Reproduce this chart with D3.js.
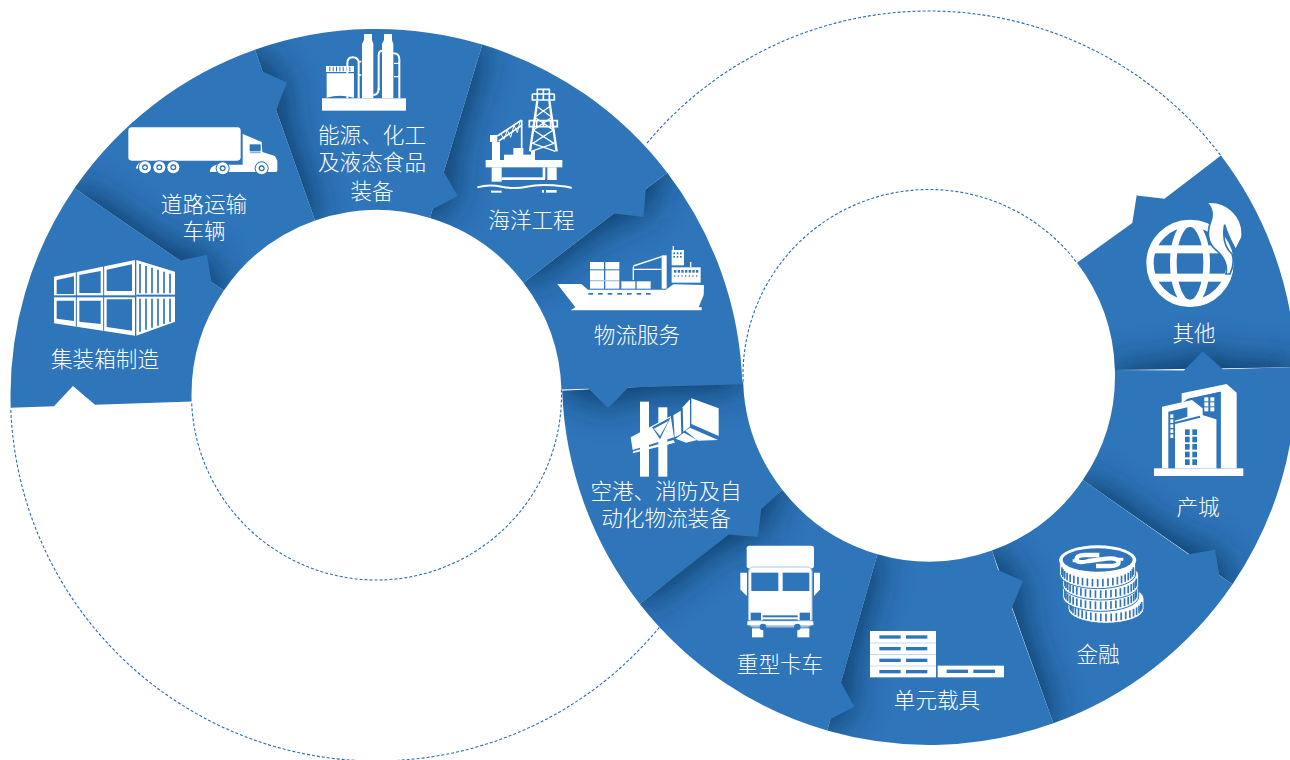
<!DOCTYPE html>
<html>
<head>
<meta charset="utf-8">
<script src="https://cdnjs.cloudflare.com/ajax/libs/d3/7.8.5/d3.min.js"></script>
<style>
html, body { margin: 0; padding: 0; background: #fff; overflow: hidden; }
svg { display: block; }
text { font-family: "Noto Sans CJK SC", "Noto Sans", sans-serif; font-weight: 300; fill: #fff; text-anchor: middle; }
</style>
</head>
<body>
<div id="chart"></div>
<script>
// categories, clockwise round the left ring then anticlockwise round the right ring
const leftCategories = [["集装箱制造"], ["道路运输", "车辆"], ["能源、化工", "及液态食品", "装备"], ["海洋工程"], ["物流服务"]];
const rightCategories = [["空港、消防及自", "动化物流装备"], ["重型卡车"], ["单元载具"], ["金融"], ["产城"], ["其他"]];

// edge angles in degrees, 0 at the top
const leftEdges = [268, 304.4, 340.6, 376.8, 412.6, 448.3];
const rightEdges = [268, 232, 196.1, 160.2, 124.2, 88.3, 52.7];

// arrow on the closing edge of each sector: [radius, tip radius, tip offset in degrees, radius]
const leftArrows = [[238, 220, 5.2, 200], [343, 325, 3.4, 302], [233, 215, 5.4, 194], [339, 321, 3.7, 299], [252, 232, 4.9, 212]];
const rightArrows = [[254, 233.5, -4.9, 213], [355, 337, -3.3, 317], [244.5, 223.7, -5, 204], [351, 333.7, -3.2, 313.7], [294, 275, -3.9, 255], [296, 276.4, -4, 255.6]];
const startNotch = [322.7, 303.7, 3.7, 281.6];

// dotted rest of each ring: [from, to] in degrees
const leftOuterDots = [129.4, 268];
const leftInnerDots = [88.3, 268];
const rightOuterDots = [309.8, 412.9];
const rightInnerDots = [268, 412.6];

const labelSpots = [[105, 359], [204, 204], [372, 135.5], [531.5, 220.5], [637, 335.5], [666, 491], [780, 664], [937, 700], [1098, 654], [1198, 507], [1194, 333]];
const lineGaps = [0, 27, 28.5];

const BLUE = "#2e75ba", WHITE = "#fff";
const width = 1290, height = 760;

const leftRing = { cx: 376.5, cy: 395, icy: 395, outer: 366, inner: 185, ccw: false };
const rightRing = { cx: 929, cy: 378, icy: 375.5, outer: 367, inner: 186, ccw: true };

const angle = d3.scaleLinear().domain([0, 360]).range([0, 2 * Math.PI]);

const svg = d3.select("#chart").append("svg").attr("width", width).attr("height", height);
const defs = svg.append("defs");
defs.append("filter").attr("id", "soft")
    .attr("filterUnits", "userSpaceOnUse")
    .attr("x", -100).attr("y", -100).attr("width", width + 200).attr("height", height + 200)
    .append("feGaussianBlur").attr("stdDeviation", 20);

function at(ring, r, deg) {
    const p = d3.pointRadial(angle(deg), r);
    return [ring.cx + p[0], ring.cy + p[1]];
}

function sectorPath(ring, a0, a1, arrow, notch) {
    const path = d3.path();
    const s = d3.pointRadial(angle(a0), ring.inner);
    path.moveTo(ring.cx + s[0], ring.icy + s[1]);
    if (notch) {
        [[notch[3], 0], [notch[1], notch[2]], [notch[0], 0]].forEach(n => {
            const q = at(ring, n[0], a0 + n[1]);
            path.lineTo(q[0], q[1]);
        });
    }
    path.arc(ring.cx, ring.cy, ring.outer, angle(a0) - Math.PI / 2, angle(a1) - Math.PI / 2, ring.ccw);
    [[arrow[0], 0], [arrow[1], arrow[2]], [arrow[3], 0]].forEach(n => {
        const q = at(ring, n[0], a1 + n[1]);
        path.lineTo(q[0], q[1]);
    });
    path.arc(ring.cx, ring.icy, ring.inner, angle(a1) - Math.PI / 2, angle(a0) - Math.PI / 2, !ring.ccw);
    path.closePath();
    return path.toString();
}

function dotted(cx, cy, r, span) {
    const path = d3.path();
    path.arc(cx, cy, r, angle(span[0]) - Math.PI / 2, angle(span[1]) - Math.PI / 2);
    svg.append("path").attr("d", path.toString())
        .attr("fill", "none").attr("stroke", "#2a6cb0").attr("stroke-width", 1.1).attr("stroke-dasharray", "3 2");
}

dotted(leftRing.cx, leftRing.cy, leftRing.outer, leftOuterDots);
dotted(leftRing.cx, leftRing.icy, leftRing.inner, leftInnerDots);
dotted(rightRing.cx, rightRing.cy, rightRing.outer, rightOuterDots);
dotted(rightRing.cx, rightRing.icy, rightRing.inner, rightInnerDots);

const sectors = [];
leftCategories.forEach((lines, i) => sectors.push({
    lines, d: sectorPath(leftRing, leftEdges[i], leftEdges[i + 1], leftArrows[i], i === 0 ? startNotch : null)
}));
rightCategories.forEach((lines, i) => sectors.push({
    lines, d: sectorPath(rightRing, rightEdges[i], rightEdges[i + 1], rightArrows[i], null)
}));

// last sector first, every sector lies on top of the next one and throws a shadow on it
for (let i = sectors.length - 1; i >= 0; i--) {
    svg.append("path").attr("d", sectors[i].d).attr("fill", BLUE);
    if (i > 0) {
        defs.append("clipPath").attr("id", "clip" + i).append("path").attr("d", sectors[i].d);
        svg.append("g").attr("clip-path", "url(#clip" + i + ")")
            .append("path").attr("d", sectors[i - 1].d)
            .attr("fill", "#0e2a50").attr("filter", "url(#soft)");
    }
}

sectors.forEach((s, i) => {
    const t = svg.append("text").attr("font-size", 21.6);
    let y = labelSpots[i][1] + 7.5;
    s.lines.forEach((line, j) => {
        y += lineGaps[j];
        t.append("tspan").attr("x", labelSpots[i][0]).attr("y", y).text(line);
    });
});

// ---- icons, drawn in 3x crop coordinates so each one gets its own group ----
function iconGroup(x, y) {
    return svg.append("g").attr("transform", "translate(" + x + "," + y + ") scale(" + (1 / 3) + ")");
}
function pg(g, pts, fill) {
    return g.append("polygon").attr("points", pts).attr("fill", fill || WHITE);
}
function box(g, x0, y0, x1, y1, fill, rx) {
    return g.append("rect").attr("x", x0).attr("y", y0).attr("width", x1 - x0).attr("height", y1 - y0)
        .attr("fill", fill || WHITE).attr("rx", rx || 0);
}
function ln(g, d, w, color) {
    return g.append("path").attr("d", d).attr("fill", "none").attr("stroke", color || WHITE).attr("stroke-width", w);
}
function dot(g, x, y, r, fill) {
    return g.append("circle").attr("cx", x).attr("cy", y).attr("r", r).attr("fill", fill || WHITE);
}

// containers
(function () {
    const g = iconGroup(0, 20);
    pg(g, "162,770 405,720 405,947 162,910");
    pg(g, "409,720 525,755 525,905 409,947");
    ln(g, "M229,752V920M311,735V932", 3, BLUE);
    box(g, 162, 826, 405, 832, BLUE);
    pg(g, "170,780 222,769 222,822 170,822", BLUE);
    pg(g, "238,765 302,753 302,819 238,819", BLUE);
    pg(g, "320,749 396,733 396,813 320,813", BLUE);
    pg(g, "170,842 222,842 222,903 170,896", BLUE);
    pg(g, "238,842 302,842 302,912 238,905", BLUE);
    pg(g, "320,838 396,838 396,932 320,921", BLUE);
    [420, 438, 456, 474, 492, 510].forEach((x, i) => {
        const s = i * 5.8;
        ln(g, "M" + x + "," + (732 + s) + "V" + 820 + "M" + x + ",836V" + (935 - s), 5, BLUE);
    });
    box(g, 409, 824, 525, 830, BLUE);
})();

// road truck
(function () {
    const g = iconGroup(0, 20);
    box(g, 385, 322, 722, 422, WHITE, 10);
    g.append("path").attr("fill", WHITE)
        .attr("d", "M728,342L785,366L787,396L825,408L832,422V452Q832,456 825,456H630Q628,440 650,434H728Z");
    box(g, 749, 373, 782, 394, BLUE);
    ln(g, "M750,398L782,398", 2, BLUE);
    ln(g, "M410,446Q414,430 428,427", 5);
    [[435, 442], [478, 442], [520, 442], [668, 445], [785, 445]].forEach(w => {
        dot(g, w[0], w[1], 21, BLUE);
        dot(g, w[0], w[1], 18);
        dot(g, w[0], w[1], 9, BLUE);
        dot(g, w[0], w[1], 5);
    });
})();

// refinery
(function () {
    const g = iconGroup(0, 20);
    box(g, 966, 235, 1218, 272);
    g.append("path").attr("fill", WHITE).attr("d", "M980,160H1062V233H1060Q1020,222 980,233Z");
    box(g, 978, 138, 1062, 156);
    [988, 998, 1008, 1018, 1028, 1038, 1048].forEach(x => box(g, x, 140, x + 3, 154, BLUE));
    g.append("path").attr("fill", WHITE).attr("d", "M1086,235V72L1092,60V42H1116V60L1120,72V235Z");
    g.append("path").attr("fill", WHITE).attr("d", "M1146,235V72L1152,60V42H1176V60L1180,72V235Z");
    ln(g, "M1042,235V130Q1042,112 1058,112Q1076,112 1076,130V235", 6);
    ln(g, "M1084,125H1076M1084,165H1076", 5);
    ln(g, "M1180,100Q1198,100 1198,118V235", 6);
    ln(g, "M1136,210V105Q1136,92 1148,92", 6);
    ln(g, "M1120,225Q1136,225 1136,205", 6);
    ln(g, "M1182,130H1198M1182,170H1198", 4);
})();

// oil platform
(function () {
    const g = iconGroup(420, 80);
    ln(g, "M350,28H390M352,28V62M370,28V62M388,28V62M337,42H403M337,42V60H403V42", 5);
    ln(g, "M352,62L330,214M388,62L410,214", 7);
    ln(g, "M352,80L396,112L340,150L402,190L334,214M388,80L344,112L400,150L338,190L406,214", 4);
    ln(g, "M328,122H412V140H328ZM350,122V140M370,122V140M392,122V140", 5);
    box(g, 197, 240, 427, 262);
    box(g, 252, 224, 335, 242);
    box(g, 280, 204, 310, 226);
    box(g, 333, 212, 345, 242);
    box(g, 210, 165, 232, 186);
    box(g, 216, 186, 240, 242);
    ln(g, "M232,168L305,120M236,183L305,136M305,120V205", 5);
    ln(g, "M243,162L252,178L262,150L272,172L282,136L292,158L300,125", 3);
    box(g, 215, 262, 245, 305);
    box(g, 245, 292, 375, 300);
    box(g, 368, 262, 376, 296);
    box(g, 382, 262, 410, 300);
    ln(g, "M172,322Q205,312 245,320T320,320T400,316T455,324", 6);
    box(g, 213, 332, 245, 338);
    box(g, 366, 330, 372, 338);
    box(g, 378, 330, 410, 338);
})();

// container ship
(function () {
    const g = iconGroup(420, 80);
    pg(g, "412,612 484,612 504,629 738,629 760,613 852,615 851,645 836,682 845,682 845,691 452,691 466,682");
    [505, 534, 563, 592, 621, 650, 678].forEach(x => box(g, x, 639, x + 14, 644, BLUE));
    box(g, 510, 546, 552, 568); box(g, 556, 546, 598, 568);
    box(g, 510, 571, 552, 600); box(g, 556, 571, 598, 600);
    box(g, 510, 602, 552, 626); box(g, 556, 602, 598, 626);
    box(g, 510, 600, 598, 604, "#a9c8e6");
    box(g, 604, 604, 646, 626); box(g, 650, 604, 692, 626);
    box(g, 725, 526, 740, 626);
    ln(g, "M640,558L725,530M640,568H725M640,560V600", 4);
    box(g, 755, 562, 842, 608);
    box(g, 755, 510, 792, 556);
    box(g, 758, 498, 762, 512); box(g, 810, 546, 814, 562);
    [762, 773, 784, 795, 806, 817, 828].forEach(x => box(g, x, 570, x + 7, 578, BLUE));
    [762, 773, 784, 795, 806, 817, 828].forEach(x => box(g, x, 586, x + 4, 590, BLUE));
    [760, 770, 780].forEach(x => { box(g, x, 517, x + 5, 523, BLUE); box(g, x, 528, x + 5, 533, BLUE); });
})();

// airport bridge
(function () {
    const g = iconGroup(560, 380);
    box(g, 240, 65, 267, 290);
    box(g, 295, 82, 322, 290);
    pg(g, "212,172 332,108 342,172 218,210");
    pg(g, "218,220 345,188 340,180 220,214");
    pg(g, "276,142 332,112 300,178", BLUE);
    pg(g, "282,146 326,122 300,168");
    pg(g, "340,106 362,92 364,162 344,172");
    pg(g, "368,82 390,58 390,140 370,155");
    pg(g, "394,55 476,85 476,168 394,132");
    pg(g, "347,176 372,158 412,180 378,188");
    pg(g, "376,152 390,143 474,180 414,182");
})();

// truck, front view
(function () {
    const g = iconGroup(560, 380);
    box(g, 560, 497, 762, 565, WHITE, 8);
    g.append("rect").attr("x", 566).attr("y", 561).attr("width", 190).attr("height", 180).attr("rx", 14)
        .attr("fill", WHITE).attr("stroke", "#a9c8e6").attr("stroke-width", 3);
    box(g, 574, 578, 655, 633, BLUE);
    box(g, 668, 578, 748, 633, BLUE);
    pg(g, "541,578 561,578 561,648 548,636 541,628");
    pg(g, "762,578 780,578 780,628 773,636 762,648");
    box(g, 572, 698, 603, 720, BLUE);
    box(g, 719, 698, 750, 720, BLUE);
    box(g, 608, 706, 713, 712, BLUE);
    box(g, 608, 718, 713, 722, BLUE);
    box(g, 562, 724, 760, 736);
    ln(g, "M562,722H760M562,738H760", 2, BLUE);
    box(g, 576, 745, 610, 772);
    box(g, 712, 745, 748, 772);
    dot(g, 609, 741, 10, BLUE);
    dot(g, 712, 741, 10, BLUE);
})();

// pallets
(function () {
    const g = iconGroup(830, 500);
    box(g, 120, 393, 318, 532);
    [406, 441, 476, 510].forEach(y => {
        box(g, 148, y, 212, y + 10, BLUE);
        box(g, 228, y, 292, y + 10, BLUE);
    });
    [428, 463, 497].forEach(y => box(g, 120, y, 318, y + 2, "#a9c8e6"));
    box(g, 323, 497, 522, 532);
    box(g, 350, 509, 414, 519, BLUE);
    box(g, 430, 509, 495, 519, BLUE);
})();

// coins
(function () {
    const g = iconGroup(830, 500);
    const ribs = d3.range(-1.45, 1.46, 0.145);
    function coin(cx, cy) {
        g.append("path").attr("fill", WHITE).attr("stroke", BLUE).attr("stroke-width", 3)
            .attr("d", "M" + (cx - 114) + "," + cy + "V" + (cy + 30) + "A114,44 0 0 0 " + (cx + 114) + "," + (cy + 30) + "V" + cy + "A114,44 0 0 0 " + (cx - 114) + "," + cy + "Z");
        ribs.forEach(t => {
            const x = cx + 108 * Math.sin(t), y = cy + 40 * Math.cos(t);
            box(g, x - 2.5, y + 5, x + 2.5, y + 28, BLUE);
        });
    }
    coin(828, 296);
    coin(812, 260);
    coin(812, 226);
    coin(803, 192);
    g.append("ellipse").attr("cx", 803).attr("cy", 180).attr("rx", 116).attr("ry", 44).attr("fill", WHITE);
    g.append("ellipse").attr("cx", 803).attr("cy", 180).attr("rx", 105).attr("ry", 35).attr("fill", BLUE);
    ln(g, "M808,165H764Q738,166 740,180Q744,191 776,183L830,176Q862,172 866,186Q866,198 840,198H798", 13);
    ln(g, "M728,182H746M860,178H880", 9);
})();

// buildings
(function () {
    const g = iconGroup(1060, 150);
    box(g, 282, 955, 550, 978);
    pg(g, "365,730 500,702 530,728 530,955 482,955 482,725 382,747 365,760");
    pg(g, "306,770 396,750 428,775 428,795 470,808 470,955 306,955");
    pg(g, "382,747 482,725 482,955 470,955 470,808 430,795 430,775 396,748", BLUE);
    pg(g, "325,785 382,772 382,800 345,812 345,955 325,955", BLUE);
    ln(g, "M345,819L420,800", 6, BLUE);
    [742, 757, 772].forEach(y => { box(g, 433, y, 445, y + 12); box(g, 451, y, 463, y + 12); });
    [793, 808, 823, 838, 853].forEach(y => box(g, 331, y, 340, y + 11));
    [838, 860, 882, 905, 928].forEach(y => { box(g, 375, y, 389, y + 17, BLUE); box(g, 397, y, 411, y + 17, BLUE); });
})();

// globe with flame
(function () {
    const g = iconGroup(1060, 150);
    g.append("circle").attr("cx", 390).attr("cy", 340).attr("r", 120)
        .attr("fill", "none").attr("stroke", WHITE).attr("stroke-width", 22);
    g.append("ellipse").attr("cx", 390).attr("cy", 340).attr("rx", 50).attr("ry", 120)
        .attr("fill", "none").attr("stroke", WHITE).attr("stroke-width", 20);
    box(g, 272, 286, 508, 310);
    box(g, 272, 371, 508, 395);
    g.append("path").attr("fill", WHITE).attr("stroke", BLUE).attr("stroke-width", 5)
        .attr("d", "M440,157C500,150 552,200 546,262L527,300C518,282 502,255 494,224C488,256 492,290 516,312C524,335 518,355 510,372L498,372C504,340 490,318 466,298C440,276 442,240 452,215C460,195 458,175 440,157Z");
})();
</script>
</body>
</html>
